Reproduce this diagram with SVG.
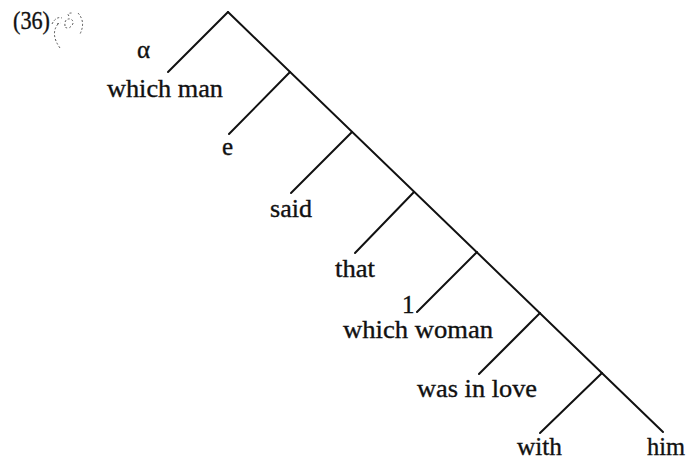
<svg xmlns="http://www.w3.org/2000/svg" width="688" height="459" viewBox="0 0 688 459">
<style>
text{font-family:"Liberation Serif","Times New Roman",serif;font-size:25px;fill:#111;stroke:#111;stroke-width:0.35}
.l{stroke:#111;stroke-width:2;stroke-linecap:round;fill:none}
.s{stroke:#555;stroke-width:1;stroke-dasharray:2 2;fill:none}
</style>
<rect width="688" height="459" fill="#fff"/>
<g id="label">
<text x="13" y="29" textLength="37" lengthAdjust="spacingAndGlyphs">(36)</text>
<path class="s" d="M52,24 Q56,16 62,18 M57,24 L61,23 M65,26 Q64,18 71,19 Q76,23 69,28 Q64,28 65,26 M69,16 Q66,13 72,13 M78,13 Q86,22 80,34 M58,24 Q50,34 60,48"/>
</g>
<g id="connectors">
<line class="l" x1="228" y1="12" x2="663" y2="432"/>
<line class="l" x1="228" y1="12" x2="168" y2="72"/>
<line class="l" x1="290" y1="72" x2="229" y2="134"/>
<line class="l" x1="352" y1="132" x2="291" y2="193"/>
<line class="l" x1="414" y1="192" x2="355" y2="253"/>
<line class="l" x1="477" y1="252" x2="417" y2="312"/>
<line class="l" x1="540" y1="313" x2="479" y2="374"/>
<line class="l" x1="602" y1="373" x2="540" y2="433"/>
</g>
<g id="n-alpha"><text x="137" y="58">α</text></g>
<g id="n-which-man"><text x="107" y="97" textLength="116" lengthAdjust="spacingAndGlyphs">which man</text></g>
<g id="n-e"><text x="222" y="155">e</text></g>
<g id="n-said"><text x="270" y="217" textLength="42" lengthAdjust="spacingAndGlyphs">said</text></g>
<g id="n-that"><text x="335" y="277" textLength="40" lengthAdjust="spacingAndGlyphs">that</text></g>
<g id="n-1"><text x="402" y="313" font-size="22">1</text></g>
<g id="n-which-woman"><text x="343" y="338" textLength="150" lengthAdjust="spacingAndGlyphs">which woman</text></g>
<g id="n-was-in-love"><text x="417" y="397" textLength="120" lengthAdjust="spacingAndGlyphs">was in love</text></g>
<g id="n-with"><text x="517" y="455" textLength="45" lengthAdjust="spacingAndGlyphs">with</text></g>
<g id="n-him"><text x="647" y="455" textLength="38" lengthAdjust="spacingAndGlyphs">him</text></g>
</svg>
